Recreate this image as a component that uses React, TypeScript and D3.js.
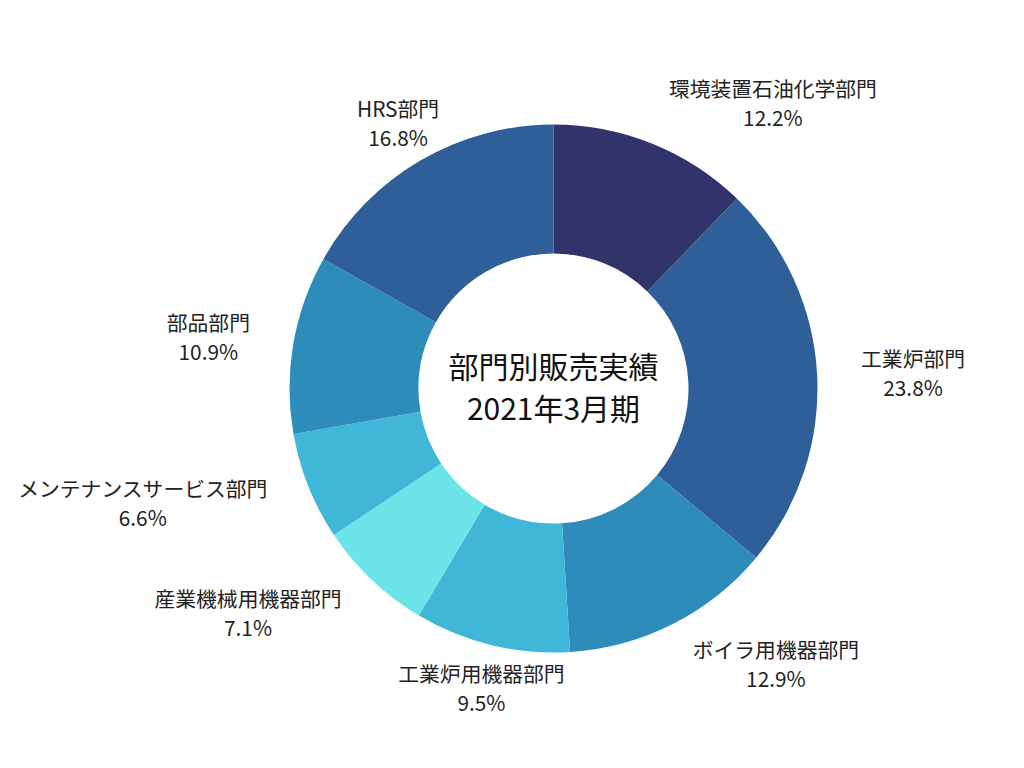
import React from "react";
import * as d3 from "d3";

const categories = [
  "環境装置石油化学部門",
  "工業炉部門",
  "ボイラ用機器部門",
  "工業炉用機器部門",
  "産業機械用機器部門",
  "メンテナンスサービス部門",
  "部品部門",
  "HRS部門",
];
const values = [12.2, 23.8, 12.9, 9.5, 7.1, 6.6, 10.9, 16.8];
const colors = ["#30346a", "#2e5f98", "#2e8cbb", "#41b7d7", "#6ce5e9", "#41b7d7", "#2e8cbb", "#2e5f98"];
const titleLines = ["部門別販売実績", "2021年3月期"];

const W = 1024;
const H = 768;
const CX = 553.5;
const CY = 388.5;
const R_OUT = 264;
const R_IN = 135;
const R_LABEL = 308;
const FONT = "'Noto Sans CJK JP', 'Noto Sans', sans-serif";
const LABEL_SIZE = 20.8;
const BOX_H = 50;
const HIT_R = 266;

function measure(text: string, size: number): number {
  if (typeof document !== "undefined") {
    const c = document.createElement("canvas");
    const ctx = c.getContext("2d");
    if (ctx) {
      ctx.font = `${size}px ${FONT}`;
      return ctx.measureText(text).width;
    }
  }
  let w = 0;
  for (const ch of text) w += ch.charCodeAt(0) > 255 ? size : size * 0.6;
  return w;
}

export default function App() {
  const pie = d3.pie<number>().sort(null).value((d) => d)(values);
  const arc = d3.arc<d3.PieArcDatum<number>>().innerRadius(R_IN).outerRadius(R_OUT);

  return (
    <svg
      width={W}
      height={H}
      style={{ position: "absolute", left: 0, top: 0, background: "#fff" }}
      fontFamily={FONT}
    >
      <g transform={`translate(${CX},${CY})`}>
        {pie.map((p, i) => (
          <path key={i} d={arc(p) || ""} fill={colors[i]} />
        ))}
        {pie.map((p, i) => {
          const a = (p.startAngle + p.endAngle) / 2;
          const sx = Math.sin(a);
          const sy = -Math.cos(a);
          const px = R_LABEL * sx;
          const py = R_LABEL * sy;
          const pct = `${values[i].toFixed(1)}%`;
          const w = Math.max(measure(categories[i], LABEL_SIZE), measure(pct, LABEL_SIZE));
          const nx = Math.max(Math.abs(px) - w / 2, 0);
          const ny = Math.max(Math.abs(py) - BOX_H / 2, 0);
          const hits = Math.hypot(nx, ny) < HIT_R;
          const cxl = hits ? (sx >= 0 ? w / 2 : -w / 2) : 0;
          return (
            <g key={"l" + i} transform={`translate(${px},${py})`}>
              <text
                textAnchor="middle"
                x={cxl}
                y={-14.5}
                dominantBaseline="central"
                fontSize={LABEL_SIZE}
                fill="#222"
              >
                {categories[i]}
              </text>
              <text
                textAnchor="middle"
                x={cxl}
                y={14.5}
                dominantBaseline="central"
                fontSize={LABEL_SIZE}
                fill="#222"
              >
                {pct}
              </text>
            </g>
          );
        })}
        {titleLines.map((t, i) => (
          <text
            key={"t" + i}
            x={0}
            y={(i - 0.5) * 42 - 2.5}
            textAnchor="middle"
            dominantBaseline="central"
            fontSize={30}
            fill="#111"
          >
            {t}
          </text>
        ))}
      </g>
    </svg>
  );
}
